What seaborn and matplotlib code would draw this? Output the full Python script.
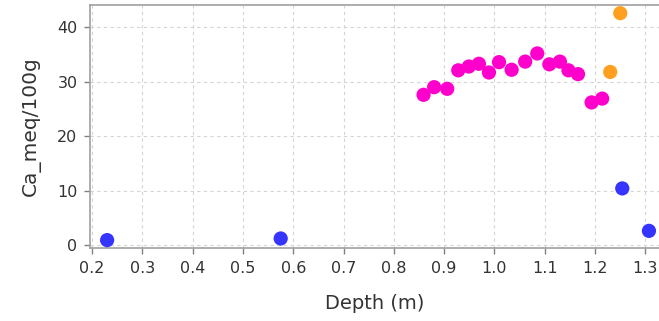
import numpy as np
import pandas as pd
import matplotlib
matplotlib.use("Agg")
import matplotlib.pyplot as plt
import seaborn as sns
from matplotlib.ticker import FormatStrFormatter

# Calcium content (meq/100g) by sampling depth (m), split into three groups
blue_depth = [0.23, 0.575, 1.254, 1.307]
blue_ca = [0.9, 1.2, 10.4, 2.6]

magenta_depth = [0.859, 0.880, 0.906, 0.928, 0.949, 0.969, 0.989, 1.009, 1.034,
                 1.061, 1.085, 1.109, 1.130, 1.147, 1.166, 1.193, 1.214]
magenta_ca = [27.6, 29.0, 28.7, 32.1, 32.8, 33.3, 31.7, 33.6, 32.2,
              33.7, 35.2, 33.2, 33.7, 32.1, 31.4, 26.2, 26.9]

orange_depth = [1.230, 1.250]
orange_ca = [31.8, 42.6]

x_ticks = [0.2, 0.3, 0.4, 0.5, 0.6, 0.7, 0.8, 0.9, 1.0, 1.1, 1.2, 1.3]
y_ticks = [0, 10, 20, 30, 40]

df = pd.DataFrame({
    "Depth (m)": blue_depth + magenta_depth + orange_depth,
    "Ca_meq/100g": blue_ca + magenta_ca + orange_ca,
    "group": ["blue"] * len(blue_depth) + ["magenta"] * len(magenta_depth)
             + ["orange"] * len(orange_depth),
})
palette = {"blue": "#3535ff", "magenta": "#ff00cc", "orange": "#ffa020"}

sns.set_style("white")
plt.rcParams["font.family"] = ["DejaVu Sans"]

fig = plt.figure(figsize=(6.59, 3.21), dpi=100)
ax = fig.add_axes([0.1366, 0.2274, 0.8634, 0.757])

sns.scatterplot(data=df, x="Depth (m)", y="Ca_meq/100g", hue="group",
                palette=palette, s=105, edgecolor="none", linewidth=0,
                legend=False, ax=ax, zorder=3, clip_on=False)

ax.set_xlim(0.196, 1.327)
ax.set_ylim(-0.55, 44.1)
ax.set_xticks(x_ticks)
ax.set_yticks(y_ticks)
ax.xaxis.set_major_formatter(FormatStrFormatter("%.1f"))

ax.grid(True, color="#d4d4d4", linestyle=(0, (3, 3)), linewidth=0.8, zorder=0)
ax.set_axisbelow(True)

for side in ["left", "bottom", "top"]:
    ax.spines[side].set_color("#a0a0a0")
    ax.spines[side].set_linewidth(1.2)
ax.spines["right"].set_visible(False)

ax.tick_params(axis="both", which="major", direction="out", length=4, width=1,
               color="#808080", labelsize=11.5, labelcolor="#333333", pad=5,
               bottom=True, left=True)
ax.set_xlabel("Depth (m)", fontsize=14, color="#333333", labelpad=13)
ax.set_ylabel("Ca_meq/100g", fontsize=14.5, color="#333333", labelpad=12)

fig.savefig("out.png", dpi=100, facecolor="white")
